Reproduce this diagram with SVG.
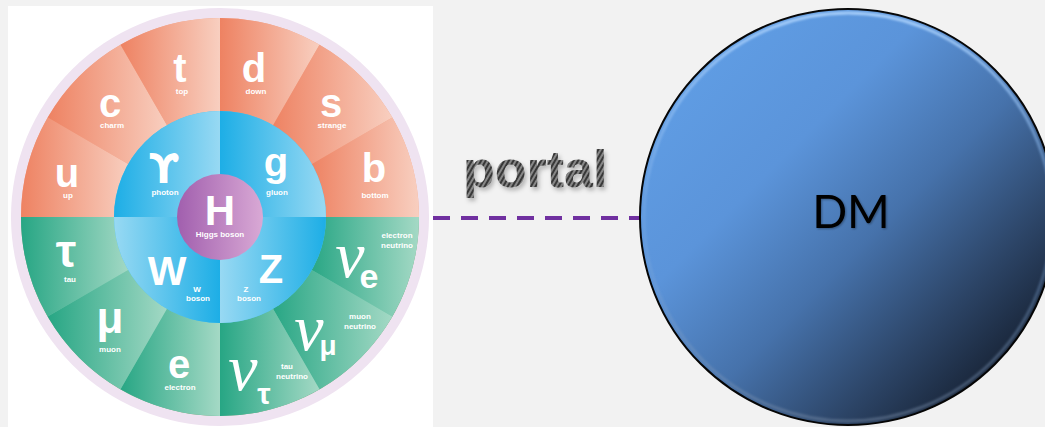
<svg xmlns="http://www.w3.org/2000/svg" width="1045" height="427" viewBox="0 0 1045 427">
  <defs>
    <linearGradient id="gOrange" x1="0" y1="0" x2="1" y2="0">
      <stop offset="0" stop-color="#ee8262"/>
      <stop offset="1" stop-color="#f8cfc0"/>
    </linearGradient>
    <linearGradient id="gGreen" x1="0" y1="0" x2="1" y2="0">
      <stop offset="0" stop-color="#27a684"/>
      <stop offset="1" stop-color="#a4d9c5"/>
    </linearGradient>
    <linearGradient id="gBlue" x1="0" y1="0" x2="1" y2="0">
      <stop offset="0" stop-color="#1daee6"/>
      <stop offset="1" stop-color="#98d9f3"/>
    </linearGradient>
    <linearGradient id="gBlueRev" x1="0" y1="0" x2="1" y2="0">
      <stop offset="0" stop-color="#98d9f3"/>
      <stop offset="1" stop-color="#1daee6"/>
    </linearGradient>
    <linearGradient id="gHiggs" x1="0" y1="0" x2="1" y2="0">
      <stop offset="0" stop-color="#a15fae"/>
      <stop offset="1" stop-color="#d9a9d5"/>
    </linearGradient>
    <linearGradient id="gSphere" x1="0.15" y1="0.15" x2="0.95" y2="0.95">
      <stop offset="0" stop-color="#5f9ce3"/>
      <stop offset="0.25" stop-color="#5b94da"/>
      <stop offset="0.5" stop-color="#4672ab"/>
      <stop offset="0.72" stop-color="#2d4669"/>
      <stop offset="0.88" stop-color="#1a273b"/>
      <stop offset="1" stop-color="#0b1018"/>
    </linearGradient>
    <linearGradient id="gRim" x1="0" y1="0" x2="0" y2="1">
      <stop offset="0" stop-color="#a9d0fb" stop-opacity="0.95"/>
      <stop offset="0.5" stop-color="#7fb0ea" stop-opacity="0.3"/>
      <stop offset="1" stop-color="#7d90aa" stop-opacity="0.45"/>
    </linearGradient>
    <pattern id="carbon" width="4" height="4" patternUnits="userSpaceOnUse" patternTransform="rotate(30)">
      <rect width="4" height="4" fill="#878787"/>
      <rect width="2" height="4" fill="#383838"/>
    </pattern>
    <filter id="softShadow" x="-10%" y="-20%" width="130%" height="150%">
      <feDropShadow dx="2" dy="3" stdDeviation="2" flood-color="#000" flood-opacity="0.25"/>
    </filter>
    <filter id="textShadow" x="-10%" y="-20%" width="130%" height="150%">
      <feDropShadow dx="1" dy="1" stdDeviation="1" flood-color="#000" flood-opacity="0.35"/>
    </filter>
    <filter id="rimBlur" x="-5%" y="-5%" width="110%" height="110%">
      <feGaussianBlur stdDeviation="1.2"/>
    </filter>
  </defs>
  <style>
    .sym { font-family: "Liberation Sans", "DejaVu Sans", sans-serif; font-weight: bold; fill: #ffffff; text-anchor: middle; }
    .lbl { font-family: "Liberation Sans", "DejaVu Sans", sans-serif; font-weight: bold; font-size: 8px; fill: #ffffff; text-anchor: middle; }
    .nu { font-family: "Liberation Serif", "DejaVu Serif", serif; font-style: italic; font-size: 66px; fill: #ffffff; text-anchor: middle; }
    .quark { fill: url(#gOrange); }
    .lepton { fill: url(#gGreen); }
  </style>

  <!-- page background -->
  <rect x="0" y="0" width="1045" height="427" fill="#f2f2f2"/>

  <!-- Standard Model wheel -->
  <g id="standard-model">
    <rect x="8" y="6" width="425" height="421" fill="#ffffff"/>
    <circle cx="220" cy="217" r="209" fill="#efe3f1"/>
    <circle cx="220" cy="217" r="199" fill="#f2a88c"/>
    <path d="M21,217 H419 A199,199 0 0 1 21,217 Z" fill="#62bfa2"/>

    <!-- quarks -->
    <g id="p-up">
      <path class="quark" d="M21,217 A199,199 0 0 1 47.67,117.5 L129.93,165 A104,104 0 0 0 116,217 Z"/>
      <text class="sym" x="67" y="187" font-size="40">u</text>
      <text class="lbl" x="68" y="198">up</text>
    </g>
    <g id="p-charm">
      <path class="quark" d="M47.67,117.5 A199,199 0 0 1 120.5,44.67 L168,126.93 A104,104 0 0 0 129.93,165 Z"/>
      <text class="sym" x="110" y="117" font-size="40">c</text>
      <text class="lbl" x="112" y="128">charm</text>
    </g>
    <g id="p-top">
      <path class="quark" d="M120.5,44.67 A199,199 0 0 1 220,18 L220,113 A104,104 0 0 0 168,126.93 Z"/>
      <text class="sym" x="180" y="82" font-size="40">t</text>
      <text class="lbl" x="182" y="94">top</text>
    </g>
    <g id="p-down">
      <path class="quark" d="M220,18 A199,199 0 0 1 319.5,44.67 L272,126.93 A104,104 0 0 0 220,113 Z"/>
      <text class="sym" x="254" y="82" font-size="40">d</text>
      <text class="lbl" x="256" y="94">down</text>
    </g>
    <g id="p-strange">
      <path class="quark" d="M319.5,44.67 A199,199 0 0 1 392.33,117.5 L310.07,165 A104,104 0 0 0 272,126.93 Z"/>
      <text class="sym" x="331" y="117" font-size="40">s</text>
      <text class="lbl" x="332" y="128">strange</text>
    </g>
    <g id="p-bottom">
      <path class="quark" d="M392.33,117.5 A199,199 0 0 1 419,217 L324,217 A104,104 0 0 0 310.07,165 Z"/>
      <text class="sym" x="374" y="182" font-size="40">b</text>
      <text class="lbl" x="375" y="198">bottom</text>
    </g>

    <!-- leptons -->
    <g id="p-electron-neutrino">
      <path class="lepton" d="M419,217 A199,199 0 0 1 392.33,316.5 L310.07,269 A104,104 0 0 0 324,217 Z"/>
      <text class="nu" x="350" y="277">ν</text>
      <text class="sym" x="369" y="288" font-size="34">e</text>
      <text class="lbl" x="397" y="238">electron</text>
      <text class="lbl" x="397" y="248">neutrino</text>
    </g>
    <g id="p-muon-neutrino">
      <path class="lepton" d="M392.33,316.5 A199,199 0 0 1 319.5,389.33 L272,307.07 A104,104 0 0 0 310.07,269 Z"/>
      <text class="nu" x="309" y="350">ν</text>
      <text class="sym" x="328" y="355" font-size="28">μ</text>
      <text class="lbl" x="360" y="319">muon</text>
      <text class="lbl" x="360" y="329">neutrino</text>
    </g>
    <g id="p-tau-neutrino">
      <path class="lepton" d="M319.5,389.33 A199,199 0 0 1 220,416 L220,321 A104,104 0 0 0 272,307.07 Z"/>
      <text class="nu" x="243" y="390">ν</text>
      <text class="sym" x="264" y="404" font-size="30">τ</text>
      <text class="lbl" x="287" y="369">tau</text>
      <text class="lbl" x="292" y="379">neutrino</text>
    </g>
    <g id="p-electron">
      <path class="lepton" d="M220,416 A199,199 0 0 1 120.5,389.33 L168,307.07 A104,104 0 0 0 220,321 Z"/>
      <text class="sym" x="179" y="378" font-size="40">e</text>
      <text class="lbl" x="180" y="390">electron</text>
    </g>
    <g id="p-muon">
      <path class="lepton" d="M120.5,389.33 A199,199 0 0 1 47.67,316.5 L129.93,269 A104,104 0 0 0 168,307.07 Z"/>
      <text class="sym" x="110" y="333" font-size="44">μ</text>
      <text class="lbl" x="110" y="352">muon</text>
    </g>
    <g id="p-tau">
      <path class="lepton" d="M47.67,316.5 A199,199 0 0 1 21,217 L116,217 A104,104 0 0 0 129.93,269 Z"/>
      <text class="sym" x="66" y="267" font-size="46">τ</text>
      <text class="lbl" x="70" y="282">tau</text>
    </g>

    <!-- gauge bosons -->
    <circle cx="220" cy="217" r="106" fill="#4fc1ec"/>
    <g id="p-photon">
      <path fill="url(#gBlue)" d="M220,217 L114,217 A106,106 0 0 1 220,111 Z"/>
      <text class="sym" x="164" y="183" font-size="40" font-family="DejaVu Sans, sans-serif" style="font-family: 'DejaVu Sans', sans-serif">ϒ</text>
      <text class="lbl" x="165" y="195">photon</text>
    </g>
    <g id="p-gluon">
      <path fill="url(#gBlue)" d="M220,217 L220,111 A106,106 0 0 1 326,217 Z"/>
      <text class="sym" x="276" y="176" font-size="40">g</text>
      <text class="lbl" x="277" y="195">gluon</text>
    </g>
    <g id="p-z-boson">
      <path fill="url(#gBlueRev)" d="M220,217 L326,217 A106,106 0 0 1 220,323 Z"/>
      <text class="sym" x="271" y="283" font-size="40">Z</text>
      <text class="lbl" x="246" y="292">Z</text>
      <text class="lbl" x="249" y="301">boson</text>
    </g>
    <g id="p-w-boson">
      <path fill="url(#gBlueRev)" d="M220,217 L220,323 A106,106 0 0 1 114,217 Z"/>
      <text class="sym" x="167" y="285" font-size="41">W</text>
      <text class="lbl" x="197" y="292">W</text>
      <text class="lbl" x="198" y="301">boson</text>
    </g>

    <!-- Higgs -->
    <g id="p-higgs">
      <circle cx="220" cy="217" r="43" fill="url(#gHiggs)"/>
      <text class="sym" x="220" y="225" font-size="42">H</text>
      <text class="lbl" x="220" y="237">Higgs boson</text>
    </g>
  </g>

  <!-- connector between the two sectors -->
  <g id="connectors">
    <line x1="433" y1="218" x2="645" y2="218" stroke="#7030a0" stroke-width="4" stroke-dasharray="17 11"/>
  </g>

  <!-- label over the connector -->
  <g id="portal-label" filter="url(#softShadow)">
    <text x="463" y="187" font-family="Liberation Sans, DejaVu Sans, sans-serif" font-weight="bold" font-size="52" fill="url(#carbon)">portal</text>
  </g>

  <!-- dark matter sector -->
  <g id="dark-matter">
    <circle cx="848" cy="217" r="208" fill="url(#gSphere)" stroke="#050505" stroke-width="2"/>
    <circle cx="848" cy="217" r="204" fill="none" stroke="url(#gRim)" stroke-width="3" filter="url(#rimBlur)"/>
    <text x="851" y="228" font-family="Lato, Open Sans, sans-serif" font-size="46" fill="#000000" text-anchor="middle" filter="url(#textShadow)">DM</text>
  </g>
</svg>
